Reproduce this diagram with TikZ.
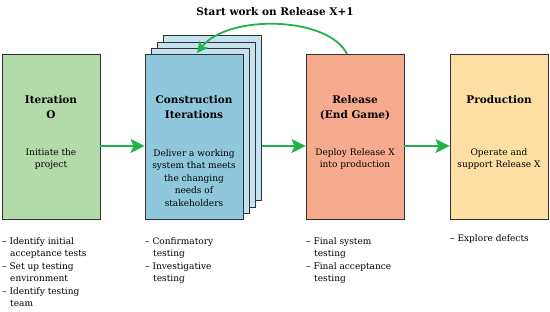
\documentclass[tikz,border=0pt]{standalone}
\usepackage{fontspec}
\setmainfont{DejaVu Serif}
\usetikzlibrary{arrows.meta}
\definecolor{grn}{RGB}{34,177,76}
\definecolor{cG}{RGB}{179,219,170}
\definecolor{cB}{RGB}{143,200,220}
\definecolor{cBL}{RGB}{197,227,238}
\definecolor{cR}{RGB}{246,170,142}
\definecolor{cY}{RGB}{253,223,163}
\definecolor{edge}{RGB}{50,50,50}
\tikzset{
  phase/.style={draw=edge, line width=0.9pt, minimum width=98pt, minimum height=165pt, inner sep=0pt},
  ttl/.style={font=\fontsize{10.5}{15}\selectfont\bfseries, align=center, inner sep=0pt},
  body/.style={font=\fontsize{9}{12.5}\selectfont, align=center, inner sep=0pt},
  lst/.style={font=\fontsize{9}{12.5}\selectfont, align=left, anchor=north west, inner sep=0pt},
  flow/.style={draw=grn, line width=1.8pt, -{Stealth[length=14pt,width=14pt,inset=3pt]}},
}
\begin{document}
\begin{tikzpicture}[x=1pt,y=-1pt]
\useasboundingbox (0,0) rectangle (550,312);
% boxes
\node[phase, fill=cG] (it0) at (51,136.5) {};
\node[phase, fill=cBL] (p4) at (212.5,118) {};
\node[phase, fill=cBL] (p3) at (206,124.5) {};
\node[phase, fill=cBL] (p2) at (200,130.5) {};
\node[phase, fill=cB] (con) at (194,136.5) {};
\node[phase, fill=cR] (rel) at (355,136.5) {};
\node[phase, fill=cY] (prod) at (499,136.5) {};
% titles
\node[ttl] (t0) at (51,107.5) {Iteration\\O};
\node[ttl] (t1) at (194,107.5) {Construction\\Iterations};
\node[ttl] (t2) at (355,107.5) {Release\\(End Game)};
\node[ttl] (t3) at (499,100) {Production};
% body texts
\node[body] (b0) at (51,159) {Initiate the\\project};
\node[body] (b1) at (194,178) {Deliver a working\\system that meets\\the changing\\needs of\\stakeholders};
\node[body] (b2) at (355,159) {Deploy Release X\\into production};
\node[body] (b3) at (499,159) {Operate and\\support Release X};
% lists
\node[lst] (l0) at (2,237) {– Identify initial\\\hspace*{8pt}acceptance tests\\– Set up testing\\\hspace*{8pt}environment\\– Identify testing\\\hspace*{8pt}team};
\node[lst] (l1) at (145,237) {– Confirmatory\\\hspace*{8pt}testing\\– Investigative\\\hspace*{8pt}testing};
\node[lst] (l2) at (306,237) {– Final system\\\hspace*{8pt}testing\\– Final acceptance\\\hspace*{8pt}testing};
\node[lst] (l3) at (450,234) {– Explore defects};
% top label
\node[ttl] (top) at (275,12) {Start work on Release X+1};
% arrows
\draw[flow] (it0.east |- 0,146) -- (con.west |- 0,146);
\draw[flow] (p4.east |- 0,146) -- (rel.west |- 0,146);
\draw[flow] (rel.east |- 0,146) -- (prod.west |- 0,146);
\coordinate (cs) at (347,54);
\coordinate (ce) at (197,53);
\draw[draw=grn, line width=1.8pt, -{Stealth[length=11pt,width=11pt,inset=2.5pt]}]
  (cs) .. controls (328,16) and (228,14) .. (ce);
\end{tikzpicture}
\end{document}
